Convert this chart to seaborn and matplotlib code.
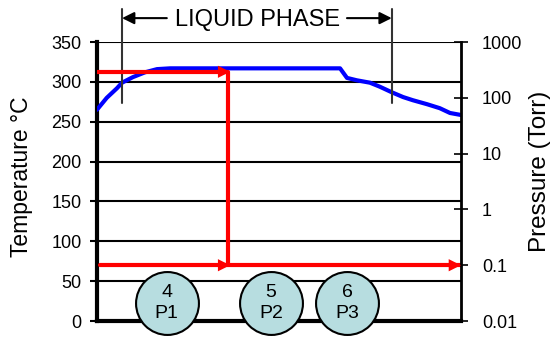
import numpy as np
import pandas as pd
import seaborn as sns
import matplotlib.pyplot as plt

# blue temperature trace (x is relative time, 0..100)
temp_x = [0, 2.7, 5.5, 6.9, 9.9, 13.2, 16.5, 20.1, 50.3, 66.8, 68.7, 71.4,
          75.0, 77.7, 81.0, 84.1, 86.8, 90.7, 94.2, 97.0, 100]
temp_c = [265, 280, 292, 299, 306, 312, 316, 317, 317, 317, 305, 302,
          299, 294, 287, 281, 277, 272, 267, 261, 258.5]

# red pressure trace (Torr)
valve_x = [0, 36, 36, 100]
valve_p = [293, 293, 0.1, 0.1]
base_x = [0.8, 36]
base_p = [0.1, 0.1]

# numbered phases
phase_x = [19.2, 47.8, 68.7]
phase_labels = ["4\nP1", "5\nP2", "6\nP3"]
phase_y = 22.5

liquid_start, liquid_end = 6.9, 81.0

temp_ticks = [0, 50, 100, 150, 200, 250, 300, 350]
press_ticks = [0.01, 0.1, 1, 10, 100, 1000]
press_labels = ["0.01", "0.1", "1", "10", "100", "1000"]

sns.set_style("white")
plt.rcParams['font.family'] = ['Liberation Sans', 'DejaVu Sans']
plt.rcParams.update({"text.color": "black", "axes.labelcolor": "black",
                     "xtick.color": "black", "ytick.color": "black"})

fig = plt.figure(figsize=(5.57, 3.39), dpi=100)
ax = fig.add_axes([0.174, 0.053, 0.6535, 0.823])
ax2 = ax.twinx()

df_t = pd.DataFrame({"x": temp_x, "T": temp_c})
sns.lineplot(data=df_t, x="x", y="T", ax=ax, color="#0000ff", lw=3,
             sort=False, estimator=None, zorder=3)

df_v = pd.DataFrame({"x": valve_x, "P": valve_p})
df_b = pd.DataFrame({"x": base_x, "P": base_p})
sns.lineplot(data=df_v, x="x", y="P", ax=ax2, color="#ff0000", lw=3,
             sort=False, estimator=None)
sns.lineplot(data=df_b, x="x", y="P", ax=ax2, color="#ff0000", lw=3,
             sort=False, estimator=None)

# arrow heads on the red trace
arrow_kw = dict(arrowstyle="-|>", color="#ff0000", lw=0, mutation_scale=22,
                shrinkA=0, shrinkB=0)
ax2.annotate("", xy=(36.6, 293), xytext=(30, 293), arrowprops=arrow_kw)
ax2.annotate("", xy=(36.6, 0.1), xytext=(30, 0.1), arrowprops=arrow_kw)
ax2.annotate("", xy=(100, 0.1), xytext=(93, 0.1), arrowprops=arrow_kw,
             annotation_clip=False)

ax.set_xlim(0, 100)
ax.set_ylim(0, 350)
ax2.set_yscale("log")
ax2.set_ylim(0.01, 1000)

ax.set_yticks(temp_ticks)
ax.set_yticklabels([str(t) for t in temp_ticks], fontsize=13)
ax.set_xticks([])
ax.set_xlabel("")
ax.set_ylabel("")
ax.grid(False)
for t in temp_ticks[1:]:
    ax.axhline(t, color="black", lw=1.5, zorder=1)
ax.tick_params(axis="y", direction="out", length=5, width=1.5, pad=6,
               left=True, colors="black")

ax2.set_yticks(press_ticks)
ax2.set_yticklabels(press_labels, fontsize=13)
ax2.minorticks_off()
ax2.set_ylabel("")
ax2.tick_params(axis="y", direction="inout", length=10, width=1.2, pad=10,
                right=True, colors="black")

for a in (ax, ax2):
    a.spines["top"].set_visible(False)
ax.spines["left"].set_linewidth(3)
ax.spines["bottom"].set_linewidth(3)
ax2.spines["right"].set_linewidth(2)
ax2.spines["left"].set_visible(False)
ax2.spines["bottom"].set_visible(False)
for s in ("left", "bottom", "right"):
    ax2.spines[s].set_color("black")
    ax.spines[s].set_color("black")

# numbered circles
ax.scatter(phase_x, [phase_y] * len(phase_x), s=2050, color="#b7dde0",
           edgecolor="black", linewidth=1.5, zorder=5, clip_on=False)
for px, lab in zip(phase_x, phase_labels):
    ax.text(px, phase_y, lab, ha="center", va="center", fontsize=14,
            linespacing=1.3, zorder=6, color="black")

# liquid phase marker
for lx in (liquid_start, liquid_end):
    ax.plot([lx, lx], [273.5, 391], color="#333333", lw=1.5, clip_on=False,
            zorder=4)
line_kw = dict(arrowstyle="-|>", color="black", lw=1.5, mutation_scale=18,
               shrinkA=0, shrinkB=0)
ax.annotate("", xy=(liquid_start, 380), xytext=(19.2, 380),
            arrowprops=line_kw, annotation_clip=False)
ax.annotate("", xy=(liquid_end, 380), xytext=(68.7, 380),
            arrowprops=line_kw, annotation_clip=False)
ax.text(44.0, 378, "LIQUID PHASE", ha="center", va="center", fontsize=17,
        clip_on=False, color="black")

fig.text(22 / 557, 1 - 177 / 339, "Temperature °C", rotation=90,
         ha="center", va="center", fontsize=16.5, color="black")
fig.text(540 / 557, 1 - 171 / 339, "Pressure (Torr)", rotation=90,
         ha="center", va="center", fontsize=17.5, color="black")

fig.savefig("out.png", dpi=100)
